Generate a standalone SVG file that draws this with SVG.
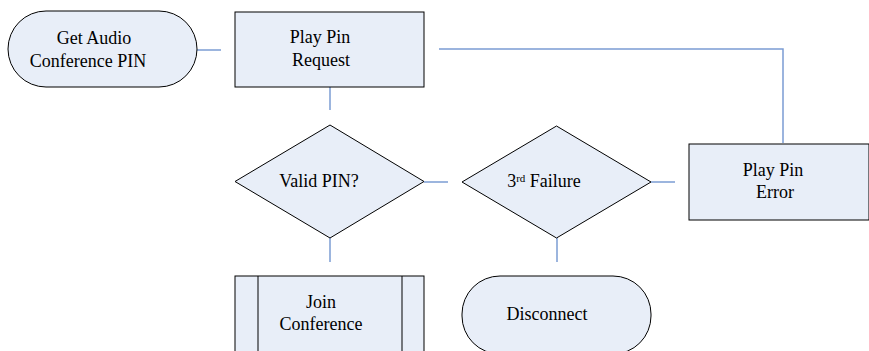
<svg xmlns="http://www.w3.org/2000/svg" width="869" height="351" viewBox="0 0 869 351">
<style>
.s{fill:#E8EEF8;stroke:#000;stroke-width:1}
.c{fill:none;stroke:#7B9CD3;stroke-width:1.5}
</style>
<rect width="869" height="351" fill="#fff"/>
<g id="connectors">
<path class="c" d="M197 50H221"/>
<path class="c" d="M330 87V110"/>
<path class="c" d="M439 49H783V143"/>
<path class="c" d="M424 182H448"/>
<path class="c" d="M651 182H675"/>
<path class="c" d="M330 238V262"/>
<path class="c" d="M557 238V262"/>
</g>
<g font-family="Liberation Serif, DejaVu Serif, serif" font-size="18" fill="#000" text-anchor="middle">
<g id="get-pin">
<rect class="s" x="8" y="11" width="189" height="76" rx="38" ry="38"/>
<text x="94" y="44" style="font-family:'Liberation Serif',serif">Get Audio</text>
<text x="88" y="67" style="font-family:'Liberation Serif',serif">Conference PIN</text>
</g>
<g id="play-request">
<rect class="s" x="235" y="12" width="189" height="75"/>
<text x="320" y="43" style="font-family:'Liberation Serif',serif">Play Pin</text>
<text x="321" y="66" style="font-family:'Liberation Serif',serif">Request</text>
</g>
<g id="valid-pin">
<polygon class="s" points="330,125 424,181.5 330,238 235,181.5"/>
<text x="319" y="187" style="font-family:'Liberation Serif',serif">Valid PIN?</text>
</g>
<g id="third-failure">
<polygon class="s" points="556.5,126 651,182 556.5,238 462,182"/>
<text x="544" y="187" style="font-family:'Liberation Serif',serif">3<tspan font-size="11" dy="-5">rd</tspan><tspan dy="5"> Failure</tspan></text>
</g>
<g id="play-error">
<rect class="s" x="689" y="144" width="180" height="76"/>
<text x="773" y="176" style="font-family:'Liberation Serif',serif">Play Pin</text>
<text x="775" y="198" style="font-family:'Liberation Serif',serif">Error</text>
</g>
<g id="join">
<rect class="s" x="235" y="276" width="189" height="80"/>
<path d="M258 276V351M402 276V351" stroke="#000" stroke-width="1"/>
<text x="321" y="308" style="font-family:'Liberation Serif',serif">Join</text>
<text x="321" y="330" style="font-family:'Liberation Serif',serif">Conference</text>
</g>
<g id="disconnect">
<rect class="s" x="462" y="276" width="189" height="78" rx="38" ry="38"/>
<text x="547" y="320" style="font-family:'Liberation Serif',serif">Disconnect</text>
</g>
</g>
</svg>
